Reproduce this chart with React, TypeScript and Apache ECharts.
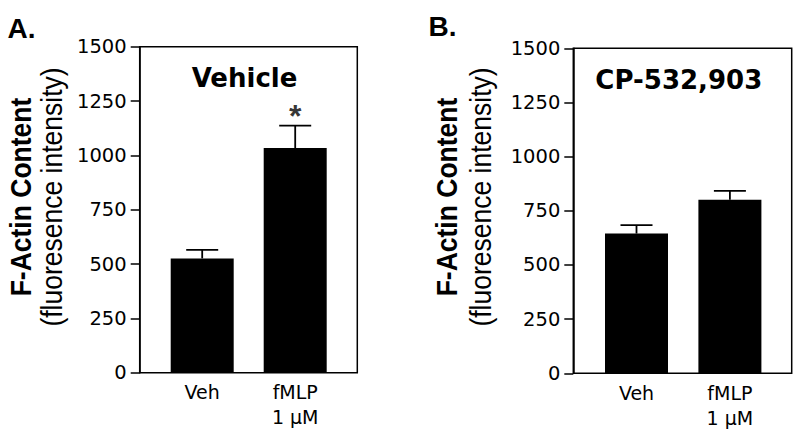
import React, { useEffect, useRef } from "react";
import * as echarts from "echarts";

const categories = ["Veh", "fMLP\n1 μM"];
const vehicleMeans = [526, 1034];
const vehicleSem = [39, 103];
const cpMeans = [645, 801];
const cpSem = [39, 41];
const yTicks = { min: 0, max: 1500, interval: 250 };
const panelTitles = ["Vehicle", "CP-532,903"];
const panelLetters = ["A.", "B."];
const significance = ["*", ""];

const TICK_FONT = "DejaVu Sans";

function errorSeries(gridIdx: number, means: number[], sems: number[]) {
  return {
    type: "custom",
    xAxisIndex: gridIdx,
    yAxisIndex: gridIdx,
    data: means.map((m, i) => [i, m, m + sems[i]]),
    z: 5,
    renderItem: (params: any, api: any) => {
      const base = api.coord([api.value(0), api.value(1)]);
      const top = api.coord([api.value(0), api.value(2)]);
      const half = 16;
      return {
        type: "group",
        children: [
          {
            type: "line",
            shape: { x1: base[0], y1: base[1], x2: top[0], y2: top[1] },
            style: { stroke: "#000", lineWidth: 1.8 },
          },
          {
            type: "line",
            shape: { x1: top[0] - half, y1: top[1], x2: top[0] + half, y2: top[1] },
            style: { stroke: "#000", lineWidth: 1.8 },
          },
        ],
      };
    },
  };
}

export default function App() {
  const ref = useRef<HTMLDivElement>(null);
  useEffect(() => {
    if (!ref.current) return;
    const chart = echarts.init(ref.current, null, { renderer: "svg" });
    const grids = [
      { left: 155.7, width: 186, top: 46.7, height: 326, offset: 16 },
      { left: 589.8, width: 186.8, top: 48.3, height: 325, offset: 16.5 },
    ];
    const frames = [
      { x: 139.7, y: 46.7, w: 217.6, h: 326 },
      { x: 573.3, y: 48.3, w: 218.4, h: 325 },
    ];
    const xAxis = grids.map((_, i) => ({
      type: "category",
      gridIndex: i,
      data: categories,
      axisLine: { show: false },
      axisTick: { show: false },
      axisLabel: {
        color: "#000",
        fontFamily: TICK_FONT,
        fontSize: 19,
        lineHeight: 25,
        margin: 7,
      },
    }));
    const yAxis = grids.map((g, i) => ({
      type: "value",
      gridIndex: i,
      min: yTicks.min,
      max: yTicks.max,
      interval: yTicks.interval,
      offset: g.offset,
      axisLine: { show: true, lineStyle: { color: "#000", width: 1.5 } },
      axisTick: { show: true, inside: false, length: 9, lineStyle: { color: "#000", width: 1.5 } },
      splitLine: { show: false },
      axisLabel: {
        color: "#000",
        fontFamily: TICK_FONT,
        fontSize: 19.5,
        margin: 13,
        formatter: (v: number) => String(v),
      },
    }));
    const allMeans = [vehicleMeans, cpMeans];
    const allSems = [vehicleSem, cpSem];
    const series: any[] = [];
    allMeans.forEach((means, i) => {
      series.push({
        type: "bar",
        xAxisIndex: i,
        yAxisIndex: i,
        data: means,
        barWidth: 63,
        itemStyle: { color: "#000" },
        z: 3,
      });
      series.push(errorSeries(i, means, allSems[i]));
      if (significance[i]) {
        series.push({
          type: "scatter",
          xAxisIndex: i,
          yAxisIndex: i,
          symbolSize: 0,
          itemStyle: { color: "#000" },
          data: [[1, means[1] + allSems[i][1]]],
          label: {
            show: true,
            formatter: significance[i],
            position: "top",
            distance: -6,
            color: "#000",
            textBorderWidth: 0,
            fontFamily: "'Liberation Sans', Arial, sans-serif",
            fontWeight: "bold",
            fontSize: 32,
          },
          z: 6,
        });
      }
    });
    const graphic: any[] = [];
    frames.forEach((f) => {
      graphic.push({
        type: "rect",
        z: 1,
        shape: { x: f.x, y: f.y, width: f.w, height: f.h },
        style: { fill: "none", stroke: "#000", lineWidth: 1.5 },
      });
    });
    const titlePos = [
      { x: 244.5, y: 78 },
      { x: 678.8, y: 80 },
    ];
    panelTitles.forEach((t, i) => {
      graphic.push({
        type: "text",
        x: titlePos[i].x,
        y: titlePos[i].y,
        style: {
          text: t,
          fill: "#000",
          font: "bold 26px 'DejaVu Sans'",
          align: "center",
          verticalAlign: "middle",
        },
      });
    });
    const letterPos = [
      { x: 21.5, y: 28.5 },
      { x: 442.5, y: 26.5 },
    ];
    panelLetters.forEach((t, i) => {
      graphic.push({
        type: "text",
        x: letterPos[i].x,
        y: letterPos[i].y,
        style: {
          text: t,
          fill: "#000",
          font: "bold 28px 'Liberation Sans', Arial, sans-serif",
          align: "center",
          verticalAlign: "middle",
        },
      });
    });
    const yNamePos = [
      { x1: 21, x2: 52.5, y: 197 },
      { x1: 447.5, x2: 480.8, y: 197 },
    ];
    yNamePos.forEach((p) => {
      graphic.push({
        type: "text",
        x: p.x1,
        y: p.y,
        rotation: Math.PI / 2,
        scaleY: 1.1,
        style: {
          text: "F-Actin Content",
          fill: "#000",
          font: "bold 26.5px 'Liberation Sans', Arial, sans-serif",
          align: "center",
          verticalAlign: "middle",
        },
      });
      graphic.push({
        type: "text",
        x: p.x2,
        y: p.y,
        rotation: Math.PI / 2,
        scaleY: 1.1,
        style: {
          text: "(fluoresence intensity)",
          fill: "#000",
          font: "26.5px 'Liberation Sans', Arial, sans-serif",
          align: "center",
          verticalAlign: "middle",
        },
      });
    });
    chart.setOption({
      animation: false,
      backgroundColor: "#fff",
      grid: grids.map((g) => ({ left: g.left, width: g.width, top: g.top, height: g.height })),
      xAxis,
      yAxis,
      series,
      graphic,
    });
    return () => chart.dispose();
  }, []);
  return (
    <div
      ref={ref}
      style={{ position: "fixed", left: 0, top: 0, width: 800, height: 438 }}
    />
  );
}
